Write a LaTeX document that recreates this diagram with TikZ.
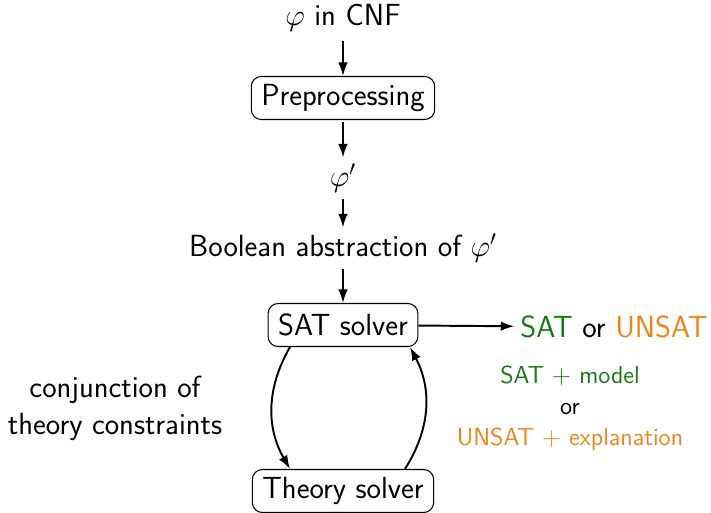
\documentclass[tikz,border=0pt]{standalone}
\usepackage{amsmath}
\usepackage{amssymb}
\usepackage{tikz}
\usetikzlibrary{arrows.meta}

\definecolor{satgreen}{RGB}{20,120,20}
\definecolor{unsatorange}{RGB}{245,130,20}

\tikzset{
  box/.style={draw,line width=0.6pt,rounded corners=2mm,inner xsep=0.2cm,minimum height=0.86cm},
  lbl/.style={font=\fontsize{17.4}{21}\selectfont\sffamily},
  small lbl/.style={font=\fontsize{14}{17.5}\selectfont\sffamily,align=center},
  flow/.style={-{Latex[length=0.27cm,width=0.19cm]},line width=1.1pt},
}

\begin{document}
\begin{tikzpicture}
\useasboundingbox (0,0) rectangle (14.22,-10.26);

\node[lbl] (cnf) at (6.86,-0.36) {$\varphi$ in CNF};
\node[lbl,box] (pre) at (6.86,-1.96) {Preprocessing};
\node[lbl] (phi) at (6.86,-3.56) {$\varphi'$};
\node[lbl] (bool) at (6.86,-4.96) {Boolean abstraction of $\varphi'$};
\node[lbl,box] (sat) at (6.86,-6.5) {SAT solver};
\node[lbl] (res) at (12.28,-6.54) {\textcolor{satgreen}{SAT} or \textcolor{unsatorange}{UNSAT}};
\node[lbl,box] (theory) at (6.86,-9.82) {Theory solver};

\node[lbl,align=center] (conj) at (2.3,-8.16) {conjunction of\\theory constraints};
\node[small lbl] (expl) at (11.4,-8.16) {\textcolor{satgreen}{SAT $+$ model}\\or\\\textcolor{unsatorange}{UNSAT $+$ explanation}};

\draw[flow,shorten <=2pt] (cnf) -- (pre);
\draw[flow,shorten <=1pt] (pre) -- (phi);
\draw[flow] (phi) -- (bool);
\draw[flow] (bool) -- (sat);
\draw[flow] (sat) -- (res);

\draw[flow] ([xshift=-1.06cm]sat.south) to[bend right=30] ([xshift=-1.06cm]theory.north);
\draw[flow] ([xshift=1.24cm]theory.north) to[bend right=30] ([xshift=1.34cm]sat.south);

\end{tikzpicture}
\end{document}
